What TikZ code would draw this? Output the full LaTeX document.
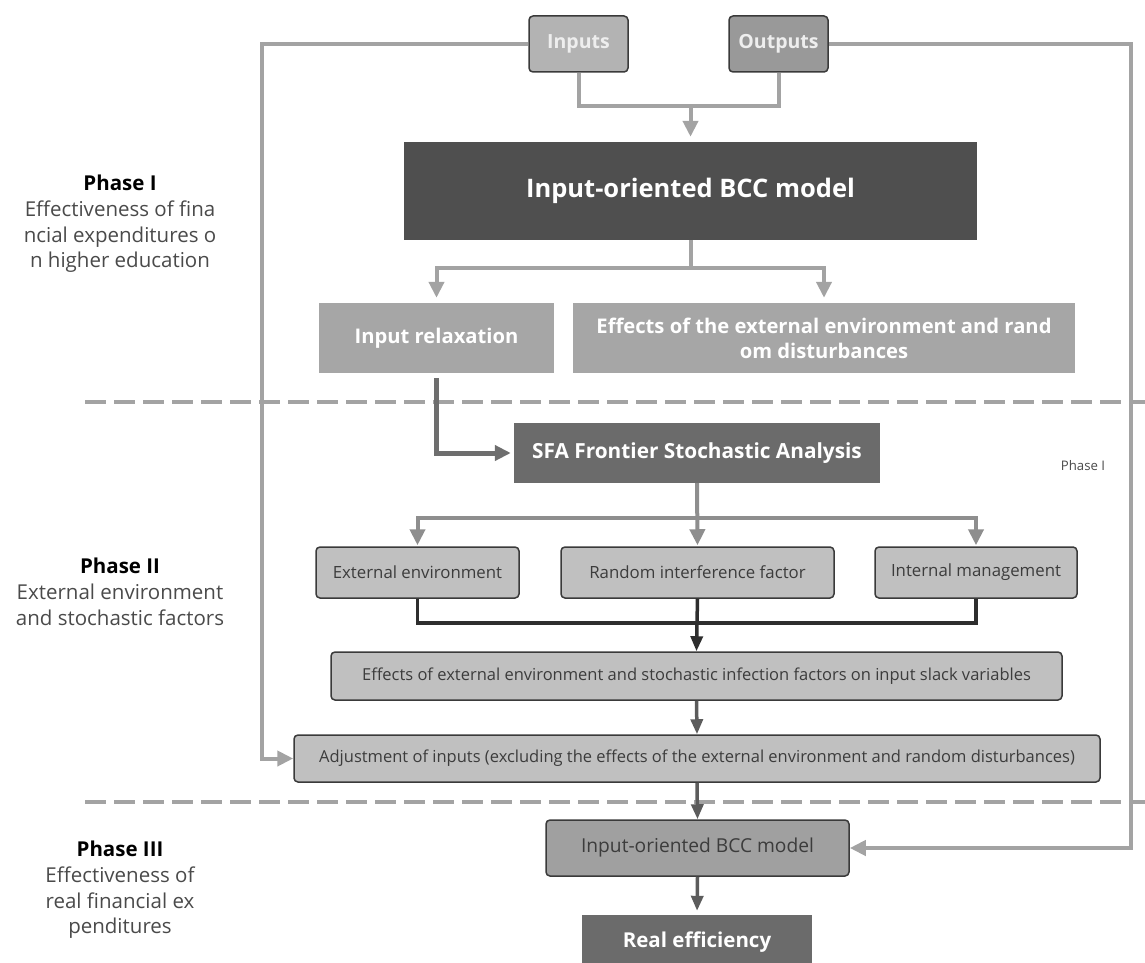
\documentclass[tikz,border=0pt]{standalone}
\usepackage{fontspec}
\setmainfont{Open Sans}
\usetikzlibrary{arrows.meta}
\definecolor{gline}{HTML}{A3A3A3}
\definecolor{mline}{HTML}{8E8E8E}
\definecolor{dline}{HTML}{6E6E6E}
\definecolor{bline}{HTML}{2E2E2E}
\definecolor{sline}{HTML}{5C5C5C}
\definecolor{bord}{HTML}{3A3A3A}
\definecolor{inF}{HTML}{B3B3B3}
\definecolor{outF}{HTML}{999999}
\definecolor{titleF}{HTML}{4F4F4F}
\definecolor{midF}{HTML}{A6A6A6}
\definecolor{darkF}{HTML}{6B6B6B}
\definecolor{lightF}{HTML}{C0C0C0}
\definecolor{bccF}{HTML}{A0A0A0}
\definecolor{txtD}{HTML}{3C3C3C}
\definecolor{txtL}{HTML}{EEEEEE}
\definecolor{lblT}{HTML}{4A4A4A}
\newcommand{\fsz}[2]{\fontsize{#1}{#2}\selectfont}
\begin{document}
\begin{tikzpicture}[x=1pt,y=-1pt,
  flat/.style={draw=none, inner sep=0pt, align=center},
  rbox/.style={draw=bord, line width=1.5pt, rounded corners=4pt, inner sep=0pt, align=center},
  tip/.style={-{Triangle[length=16pt,width=15pt]}},
  stip/.style={-{Triangle[length=15pt,width=12pt]}},
  gconn/.style={draw=gline, line width=4pt},
  mconn/.style={draw=mline, line width=4pt},
  dconn/.style={draw=dline, line width=5pt},
  bconn/.style={draw=bline, line width=3.5pt},
  sconn/.style={draw=sline, line width=3.5pt},
  dashline/.style={draw=gline, line width=4pt, dash pattern=on 21pt off 8pt},
  phaselbl/.style={align=center, text=lblT, font=\fsz{20.5}{25.7}, inner sep=0pt}
]
\useasboundingbox (0,0) rectangle (1145,963);

% phase separators
\coordinate (d1a) at (85,402);
\coordinate (d1b) at (1145,402);
\coordinate (d2a) at (85,802);
\coordinate (d2b) at (1145,802);
\draw[dashline] (d1a) -- (d1b);
\draw[dashline] (d2a) -- (d2b);

% nodes
\node[rbox, fill=inF, text=txtL, font=\bfseries\fsz{19.5}{23}, minimum width=99pt, minimum height=56pt] (in) at (578.5,44) {Inputs};
\node[rbox, fill=outF, text=txtL, font=\bfseries\fsz{19.5}{23}, minimum width=99pt, minimum height=56pt] (out) at (778.5,44) {Outputs};
\node[flat, fill=titleF, text=white, font=\bfseries\fsz{25.5}{30}, minimum width=573pt, minimum height=98pt] (bcc) at (690.5,191) {Input-oriented BCC model};
\node[flat, fill=midF, text=white, font=\bfseries\fsz{20.2}{25}, minimum width=235pt, minimum height=70pt] (relax) at (436.5,338) {Input relaxation};
\node[flat, fill=midF, text=white, font=\bfseries\fsz{20.2}{25}, minimum width=502pt, minimum height=70pt] (eff) at (824,338) {Effects of the external environment and rand\\om disturbances};
\node[flat, fill=darkF, text=white, font=\bfseries\fsz{20.8}{25}, minimum width=366pt, minimum height=60pt] (sfa) at (697,453) {SFA Frontier Stochastic Analysis};
\node[rbox, fill=lightF, text=txtD, font=\fsz{16.8}{20}, minimum width=203pt, minimum height=51pt] (ext) at (417.5,572.5) {External environment};
\node[rbox, fill=lightF, text=txtD, font=\fsz{16.8}{20}, minimum width=273pt, minimum height=51pt] (rand) at (697.5,572.5) {Random interference factor};
\node[rbox, fill=lightF, text=txtD, font=\fsz{16.8}{20}, minimum width=202pt, minimum height=51pt] (int) at (976,572.5) {Internal management};
\node[rbox, fill=lightF, text=txtD, font=\fsz{16.5}{20}, minimum width=731pt, minimum height=48pt] (slack) at (696.5,676) {Effects of external environment and stochastic infection factors on input slack variables};
\node[rbox, fill=lightF, text=txtD, font=\fsz{16.5}{20}, minimum width=806pt, minimum height=47pt] (adj) at (697,758.5) {Adjustment of inputs (excluding the effects of the external environment and random disturbances)};
\node[rbox, fill=bccF, text=txtD, font=\fsz{19.2}{23}, minimum width=303pt, minimum height=56pt] (bcc2) at (697.5,848) {Input-oriented BCC model};
\node[flat, fill=darkF, text=white, font=\bfseries\fsz{20.5}{25}, minimum width=230pt, minimum height=54pt] (real) at (697,942) {Real efficiency};

% phase labels
\node[phaselbl] (p1) at (120,224) {{\color{black}\bfseries Phase I}\\Effectiveness of fina\\ncial expenditures o\\n higher education};
\node[phaselbl] (p2) at (120,592) {{\color{black}\bfseries Phase II}\\External environment\\and stochastic factors};
\node[phaselbl] (p3) at (120,890) {{\color{black}\bfseries Phase III}\\Effectiveness of\\real financial ex\\penditures};
\node[text=lblT, font=\fsz{13.2}{16}, inner sep=0pt] (psmall) at (1083,466) {Phase I};

% helper coordinates
\coordinate (j1) at (690.5,106);
\coordinate (s1) at (690.5,268);
\coordinate (s2) at (697,518);
\coordinate (s3) at (697,623);
\coordinate (lc) at (262,758.5);
\coordinate (rc) at (1131,848);

% top connectors
\draw[gconn] (in.south) |- (j1) -| (out.south);
\draw[gconn, tip, shorten >=5pt] (j1) -- (bcc.north);
\draw[gconn, tip] (in.west) -| (lc) -- (adj.west);
\draw[gconn, tip] (out.east) -| (rc) -- (bcc2.east);

% BCC split
\draw[gconn] (bcc.south) -- (s1);
\draw[gconn, tip, shorten >=5pt] (s1) -| (relax.north);
\draw[gconn, tip, shorten >=5pt] (s1) -| (eff.north);

% relaxation to SFA
\draw[dconn, tip, shorten <=5pt, shorten >=3pt] (relax.south) |- (sfa.west);

% SFA to three boxes
\draw[mconn, tip, shorten >=1pt] (s2) -| (ext.north);
\draw[mconn, tip, shorten >=1pt] (s2) -| (int.north);
\draw[mconn, tip, shorten >=1pt] (sfa.south) -- (rand.north);

% three boxes to slack
\draw[bconn] (ext.south) |- (s3);
\draw[bconn] (int.south) |- (s3);
\draw[bconn] (rand.south) -- (s3);
\draw[bconn, stip] (s3) -- (slack.north);

% lower chain
\draw[sconn, stip] (slack.south) -- (adj.north);
\draw[sconn, stip] (adj.south) -- (bcc2.north);
\draw[sconn, stip, shorten >=4pt] (bcc2.south) -- (real.north);
\end{tikzpicture}
\end{document}
